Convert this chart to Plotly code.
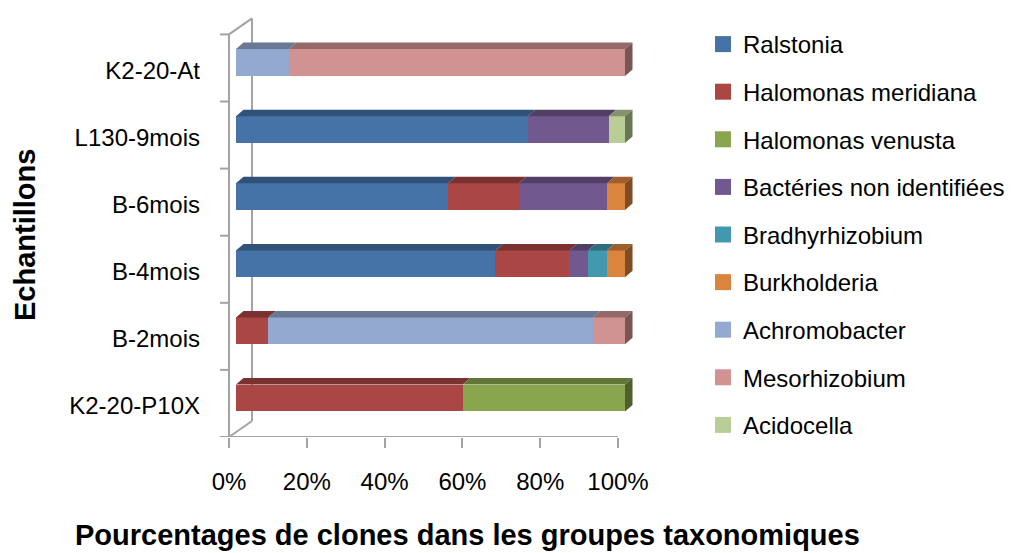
import plotly.graph_objects as go

# Samples, bottom row first
samples = ["K2-20-P10X", "B-2mois", "B-4mois", "B-6mois", "L130-9mois", "K2-20-At"]

# Percentage of clones per taxonomic group, one list per group (same order as samples)
ralstonia = [0, 0, 66.7, 54.5, 75.0, 0]
halomonas_meridiana = [58.3, 8.3, 19.0, 18.2, 0, 0]
halomonas_venusta = [41.7, 0, 0, 0, 0, 0]
bacteries_non_identifiees = [0, 0, 4.8, 22.7, 20.8, 0]
bradhyrhizobium = [0, 0, 4.8, 0, 0, 0]
burkholderia = [0, 0, 4.7, 4.6, 0, 0]
achromobacter = [0, 83.4, 0, 0, 0, 13.6]
mesorhizobium = [0, 8.3, 0, 0, 0, 86.4]
acidocella = [0, 0, 0, 0, 4.2, 0]

groups = [
    ("Ralstonia", ralstonia, "#4572A7"),
    ("Halomonas meridiana", halomonas_meridiana, "#AA4643"),
    ("Halomonas venusta", halomonas_venusta, "#89A54E"),
    ("Bactéries non identifiées", bacteries_non_identifiees, "#71588F"),
    ("Bradhyrhizobium", bradhyrhizobium, "#4198AF"),
    ("Burkholderia", burkholderia, "#DB843D"),
    ("Achromobacter", achromobacter, "#93A9CF"),
    ("Mesorhizobium", mesorhizobium, "#D19392"),
    ("Acidocella", acidocella, "#B9CD96"),
]

FONT = "Liberation Sans, Arial, sans-serif"
AXIS_GREY = "#a3a3a3"

# plot-area geometry (pixels) and pseudo-3D extrusion
W, H = 1013, 553
L, R, T, B = 215, 645, 10, 437
PX_PER_PCT = 3.89
PX_PER_ROW = 67.1
BAR_W = 0.40
DEPTH_X = 7.5 / PX_PER_PCT      # extrusion in % units
DEPTH_Y = 6.5 / PX_PER_ROW      # extrusion in row units

span_x = (R - L) / PX_PER_PCT
bar_x0 = -(236 - L) / PX_PER_PCT
tick_x0 = -(229 - L) / PX_PER_PCT
y_top = (398 - T) / PX_PER_ROW
y_bot = y_top - (B - T) / PX_PER_ROW


def shade(hex_color, f):
    h = hex_color.lstrip("#")
    r, g, b = (int(h[i:i + 2], 16) for i in (0, 2, 4))
    return "#%02x%02x%02x" % (int(r * f), int(g * f), int(b * f))


rows = list(range(len(samples)))
fig = go.Figure()

# front faces of the stacked bars
for name, vals, col in groups:
    fig.add_trace(go.Bar(
        x=vals, y=rows, orientation="h", width=BAR_W,
        marker=dict(color=col, line=dict(width=0)),
        name=name, showlegend=False, xaxis="x", yaxis="y",
    ))

# top faces and right-hand end caps, computed from the cumulative stacks
cum = [0.0] * len(samples)
last = [None] * len(samples)
for gi, (name, vals, col) in enumerate(groups):
    xs, ys = [], []
    for i, v in enumerate(vals):
        if v <= 0:
            continue
        a, b = cum[i], cum[i] + v
        yt = i + BAR_W / 2
        xs += [a, b, b + DEPTH_X, a + DEPTH_X, a, None]
        ys += [yt, yt, yt + DEPTH_Y, yt + DEPTH_Y, yt, None]
        cum[i] = b
        last[i] = gi
    if xs:
        fig.add_trace(go.Scatter(
            x=xs, y=ys, mode="lines", fill="toself",
            fillcolor=shade(col, 0.72), line=dict(width=0),
            hoverinfo="skip", showlegend=False, xaxis="x", yaxis="y",
        ))

for i, gi in enumerate(last):
    col = groups[gi][2]
    e = cum[i]
    yb, yt = i - BAR_W / 2, i + BAR_W / 2
    fig.add_trace(go.Scatter(
        x=[e, e + DEPTH_X, e + DEPTH_X, e, e],
        y=[yb, yb + DEPTH_Y, yt + DEPTH_Y, yt, yb],
        mode="lines", fill="toself", fillcolor=shade(col, 0.58),
        line=dict(width=0), hoverinfo="skip", showlegend=False,
        xaxis="x", yaxis="y",
    ))

# legend entries (square swatches)
for name, vals, col in groups:
    fig.add_trace(go.Scatter(
        x=[None], y=[None], mode="markers", name=name, legendgroup=name,
        marker=dict(symbol="square", size=16, color=col),
        xaxis="x2", yaxis="y",
    ))

# wall / floor frame
wall_dx = 23 / PX_PER_PCT
wall_dy = 16 / PX_PER_ROW
top_edge = y_bot + 6.0
line = dict(color=AXIS_GREY, width=2)
shapes = [
    dict(type="line", xref="x2", yref="y", x0=0, x1=0, y0=y_bot, y1=top_edge, line=line, layer="below"),
    dict(type="line", xref="x2", yref="y", x0=wall_dx, x1=wall_dx, y0=y_bot + wall_dy,
         y1=top_edge + wall_dy, line=line, layer="below"),
    dict(type="line", xref="x2", yref="y", x0=0, x1=wall_dx, y0=y_bot, y1=y_bot + wall_dy, line=line, layer="below"),
    dict(type="line", xref="x2", yref="y", x0=0, x1=wall_dx, y0=top_edge, y1=top_edge + wall_dy, line=line, layer="below"),
    dict(type="line", xref="x2", yref="y", x0=-2.3, x1=100, y0=y_bot, y1=y_bot, line=line, layer="below"),
]
for k in range(7):
    yk = y_bot + k
    shapes.append(dict(type="line", xref="x2", yref="y", x0=-2.3, x1=0, y0=yk, y1=yk,
                       line=line, layer="below"))

fig.update_layout(
    width=W, height=H,
    margin=dict(l=L, r=W - R, t=T, b=H - B),
    paper_bgcolor="white", plot_bgcolor="white",
    barmode="stack", bargap=0,
    font=dict(family=FONT, size=24, color="black"),
    showlegend=True,
    legend=dict(
        xref="container", yref="container", x=703 / W, y=1 - 22 / H,
        xanchor="left", yanchor="top", maxheight=1,
        font=dict(family=FONT, size=24, color="black"),
        tracegroupgap=13.4, bgcolor="rgba(0,0,0,0)",
    ),
    xaxis=dict(range=[bar_x0, bar_x0 + span_x], visible=False, fixedrange=True),
    xaxis2=dict(
        overlaying="x", anchor="y", side="bottom",
        range=[tick_x0, tick_x0 + span_x],
        tickmode="array", tickvals=[0, 20, 40, 60, 80, 100],
        ticktext=["0%", "20%", "40%", "60%", "80%", "100%"],
        ticks="outside", ticklen=10, tickwidth=2, tickcolor=AXIS_GREY,
        showline=False, showgrid=False, zeroline=False,
        tickfont=dict(family=FONT, size=24, color="black"),
        ticklabelstandoff=13,
    ),
    yaxis=dict(
        range=[y_bot, y_top], tickmode="array",
        tickvals=[r - 0.12 for r in rows], ticktext=samples,
        ticks="", showline=False, showgrid=False, zeroline=False,
        tickfont=dict(family=FONT, size=24, color="black"),
        ticklabelstandoff=14,
    ),
    shapes=shapes,
    annotations=[
        dict(text="<b>Pourcentages de clones dans les groupes taxonomiques</b>",
             xref="paper", yref="paper", x=(467 - L) / (R - L), y=(B - 535) / (B - T),
             xanchor="center", yanchor="middle", showarrow=False,
             font=dict(family=FONT, size=29, color="black")),
        dict(text="<b>Echantillons</b>", textangle=-90,
             xref="paper", yref="paper", x=(25 - L) / (R - L), y=(B - 235) / (B - T),
             xanchor="center", yanchor="middle", showarrow=False,
             font=dict(family=FONT, size=29, color="black")),
    ],
)

fig.write_html("out.html")
